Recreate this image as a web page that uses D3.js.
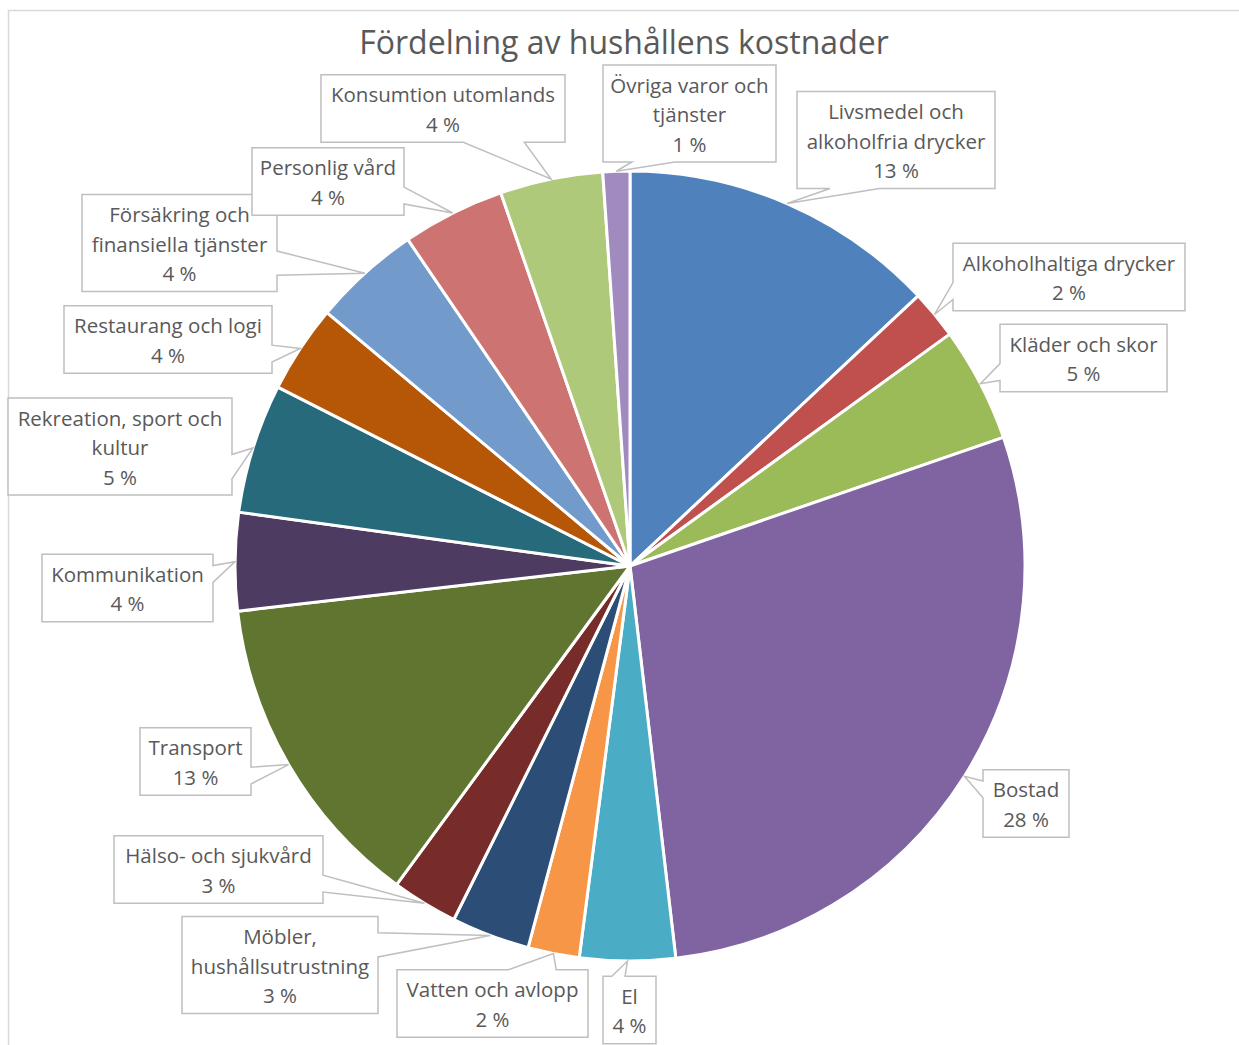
<!DOCTYPE html>
<html>
<head>
<meta charset="utf-8">
<script src="https://cdn.jsdelivr.net/npm/d3@7"></script>
<style>
  body { margin: 0; background: #fff; }
  text { font-family: "Open Sans", sans-serif; fill: #595959; }
</style>
</head>
<body>
<div id="chart"></div>
<script>
const svgWidth = 1239
const svgHeight = 1045

// Data
const categories = [
  "Livsmedel och alkoholfria drycker",
  "Alkoholhaltiga drycker",
  "Kläder och skor",
  "Bostad",
  "El",
  "Vatten och avlopp",
  "Möbler, hushållsutrustning",
  "Hälso- och sjukvård",
  "Transport",
  "Kommunikation",
  "Rekreation, sport och kultur",
  "Restaurang och logi",
  "Försäkring och finansiella tjänster",
  "Personlig vård",
  "Konsumtion utomlands",
  "Övriga varor och tjänster"
]
const shares = [13.0, 2.0, 4.7, 28.4, 3.9, 2.1, 3.2, 2.7, 13.1, 4.0, 5.3, 3.6, 4.4, 4.2, 4.2, 1.1]

const colors = [
  "#4F81BD", "#C0504D", "#9BBB59", "#8064A2", "#4BACC6", "#F79646",
  "#2C4D75", "#772C2A", "#5F7530", "#4D3B62", "#276A7C", "#B65708",
  "#729ACA", "#CD7371", "#AFC97A", "#A18BBE"
]

// label box layout: centre x, centre y, box width, wrap width
const labelBoxes = [
  [896, 140, 198, 180],
  [1069, 277, 232, 220],
  [1083.5, 358, 167, 150],
  [1026, 803.5, 86, 70],
  [629.5, 1010, 53, 40],
  [492.5, 1003.5, 191, 180],
  [280, 965, 196, 185],
  [218.5, 869.5, 209, 200],
  [195.5, 761.5, 111, 100],
  [127.5, 588, 171, 160],
  [120, 446.5, 224, 212],
  [168, 339.5, 208, 195],
  [179.5, 243, 195, 185],
  [328, 181.5, 152, 140],
  [443, 108.5, 244, 232],
  [689.5, 113.5, 173, 160]
]

const cx = 630
const cy = 566
const radius = 395
const lineH = 29.5

let svg = d3
  .select("#chart")
  .append("svg")
  .attr("width", svgWidth)
  .attr("height", svgHeight)

// chart area border
svg.append("rect")
  .attr("x", 8.5)
  .attr("y", 10.5)
  .attr("width", 1300)
  .attr("height", 1100)
  .attr("fill", "#fff")
  .attr("stroke", "#D9D9D9")
  .attr("stroke-width", 1.5)

svg.append("text")
  .attr("x", 624)
  .attr("y", 54)
  .attr("text-anchor", "middle")
  .style("font-size", "32px")
  .text("Fördelning av hushållens kostnader")

let pie = d3.pie().sort(null).value(d => d)
let arcs = pie(shares)
let arc = d3.arc().innerRadius(0).outerRadius(radius)
let edge = d3.arc().innerRadius(radius).outerRadius(radius)

let pieGroup = svg.append("g")
  .attr("transform", `translate(${cx}, ${cy})`)

pieGroup.selectAll("path")
  .data(arcs)
  .enter()
  .append("path")
  .attr("d", arc)
  .attr("fill", (d, i) => colors[i])
  .attr("stroke", "#fff")
  .attr("stroke-width", 3)
  .attr("stroke-linejoin", "round")

const total = d3.sum(shares)

// Excel style wedge callout outline
function calloutPath(l, t, r, b, px, py) {
  let w = r - l, h = b - t
  let dx = px - (l + r) / 2
  let dy = py - (t + b) / 2
  let dz = Math.abs(dy) - Math.abs(dx * h / w)
  let p
  if (dz > 0) {
    let x1 = l + w * (dx > 0 ? 7 : 2) / 12
    let x2 = l + w * (dx > 0 ? 10 : 5) / 12
    if (dy > 0) p = [[l, t], [r, t], [r, b], [x2, b], [px, py], [x1, b], [l, b]]
    else p = [[l, t], [x1, t], [px, py], [x2, t], [r, t], [r, b], [l, b]]
  } else {
    let y1 = t + h * (dy > 0 ? 7 : 2) / 12
    let y2 = t + h * (dy > 0 ? 10 : 5) / 12
    if (dx > 0) p = [[l, t], [r, t], [r, y1], [px, py], [r, y2], [r, b], [l, b]]
    else p = [[l, t], [r, t], [r, b], [l, b], [l, y2], [px, py], [l, y1]]
  }
  return "M" + p.map(q => q.join(",")).join("L") + "Z"
}

let measure = svg.append("text").style("font-size", "20.5px").attr("visibility", "hidden")
function wrap(str, maxW) {
  let words = str.split(" ")
  let lines = []
  let cur = ""
  words.forEach(wd => {
    let test = cur ? cur + " " + wd : wd
    measure.text(test)
    if (cur && measure.node().getComputedTextLength() > maxW) {
      lines.push(cur)
      cur = wd
    } else {
      cur = test
    }
  })
  lines.push(cur)
  return lines
}

let labelGroup = svg.append("g")

arcs.forEach((d, i) => {
  let [bx, by, bw, ww] = labelBoxes[i]
  let lines = wrap(categories[i], ww)
  lines.push(Math.round(shares[i] / total * 100) + " %")
  let bh = 38 + lineH * (lines.length - 1)
  let l = bx - bw / 2, t = by - bh / 2
  let tip = edge.centroid(d)

  labelGroup.append("path")
    .attr("d", calloutPath(l, t, l + bw, t + bh, tip[0] + cx, tip[1] + cy))
    .attr("fill", "#fff")
    .attr("stroke", "#BFBFBF")
    .attr("stroke-width", 1.5)

  let txt = labelGroup.append("text")
    .attr("text-anchor", "middle")
    .style("font-size", "20.5px")
  lines.forEach((ln, j) => {
    txt.append("tspan")
      .attr("x", bx)
      .attr("y", t + 20.5 + j * lineH)
      .attr("dy", "0.35em")
      .text(ln)
  })
})
measure.remove()
</script>
</body>
</html>
